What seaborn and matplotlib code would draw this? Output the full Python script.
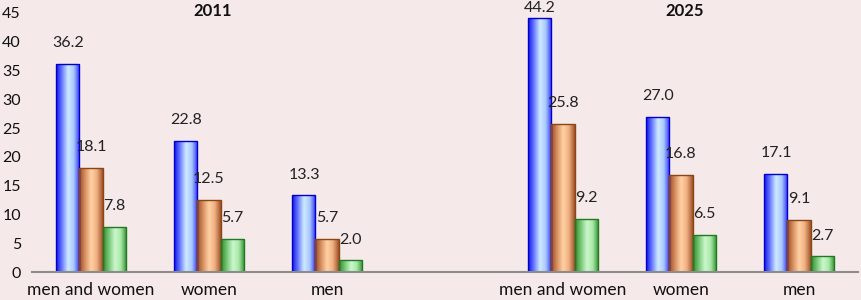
import numpy as np
import pandas as pd
import matplotlib
matplotlib.use("Agg")
import matplotlib.pyplot as plt
import seaborn as sns
from matplotlib.colors import LinearSegmentedColormap

years = ["2011", "2025"]
groups = ["men and women", "women", "men"]
series = ["s1", "s2", "s3"]
values_2011 = [[36.2, 18.1, 7.8], [22.8, 12.5, 5.7], [13.3, 5.7, 2.0]]
values_2025 = [[44.2, 25.8, 9.2], [27.0, 16.8, 6.5], [17.1, 9.1, 2.7]]

rows = []
for yr, vals in zip(years, [values_2011, values_2025]):
    for g, v in zip(groups, vals):
        for s, x in zip(series, v):
            rows.append({"slot": yr + " " + g, "series": s, "value": x})
data = pd.DataFrame(rows)
order = [years[0] + " " + g for g in groups] + ["gap"] + [years[1] + " " + g for g in groups]

bg = "#f6e9e9"
sns.set_theme(style="white")
plt.rcParams["font.family"] = ["Lato", "DejaVu Sans"]

fig = plt.figure(figsize=(8.61, 3.0), dpi=100, facecolor=bg)
ax = fig.add_axes([32 / 861, 28 / 300, 826 / 861, 259 / 300])
ax.set_facecolor(bg)

ax = sns.barplot(data=data, x="slot", y="value", hue="series", order=order,
                 hue_order=series, width=0.585, ax=ax, legend=False,
                 palette=["#3030ff", "#c07040", "#40a040"], saturation=1)

# dark edge -> light centre -> medium edge, like the original gradient fill
grads = {
    "s1": ["#1414e8", "#6a7cff", "#cfeaff", "#a8c8ff", "#3030f0"],
    "s2": ["#9a4a22", "#d89060", "#ffd2a6", "#f0b080", "#a0522d"],
    "s3": ["#2f8f2f", "#78c878", "#ccf7cc", "#a8e8a8", "#2f8f2f"],
}
edges = {"s1": "#0000cc", "s2": "#8b4513", "s3": "#217a21"}

for cont, s in zip(ax.containers, series):
    cmap = LinearSegmentedColormap.from_list(s, grads[s])
    grad = np.linspace(0, 1, 64).reshape(1, -1)
    for bar in cont:
        h = bar.get_height()
        if np.isnan(h) or h == 0:
            continue
        x0, w = bar.get_x(), bar.get_width()
        im = ax.imshow(grad, cmap=cmap, aspect="auto", extent=[x0, x0 + w, 0, h],
                       zorder=2, interpolation="bicubic")
        im.set_clip_path(bar)
        bar.set_facecolor("none")
        bar.set_edgecolor(edges[s])
        bar.set_linewidth(1.0)
        bar.set_zorder(3)
    anns = ax.bar_label(cont, fmt="%.1f", padding=10, fontsize=11.5, color="#222222")
    for a, bar in zip(anns, cont):
        if bar.get_height() > 42:
            a.xyann = (0, 2)

ax.set_xlim(-0.5, 6.5)
ax.set_ylim(0, 45)
ax.set_yticks(range(0, 46, 5))
labels = groups + [""] + groups
ax.set_xticks(range(7))
ax.set_xticklabels(labels, fontsize=12.5, color="#111111")
ax.tick_params(axis="y", labelsize=11.5, colors="#111111", length=0, pad=8)
ax.tick_params(axis="x", length=0, pad=7)
ax.set_xlabel("")
ax.set_ylabel("")
for side in ["left", "right", "top"]:
    ax.spines[side].set_visible(False)
ax.spines["bottom"].set_color("#8c8c8c")
ax.spines["bottom"].set_linewidth(1.5)
ax.spines["bottom"].set_zorder(4)

ax.text(1.03, 45.3, years[0], ha="center", va="center", fontsize=12,
        fontweight="bold", color="#111111", clip_on=False)
ax.text(5.03, 45.3, years[1], ha="center", va="center", fontsize=12,
        fontweight="bold", color="#111111", clip_on=False)

fig.savefig("out.png", dpi=100, facecolor=bg)
